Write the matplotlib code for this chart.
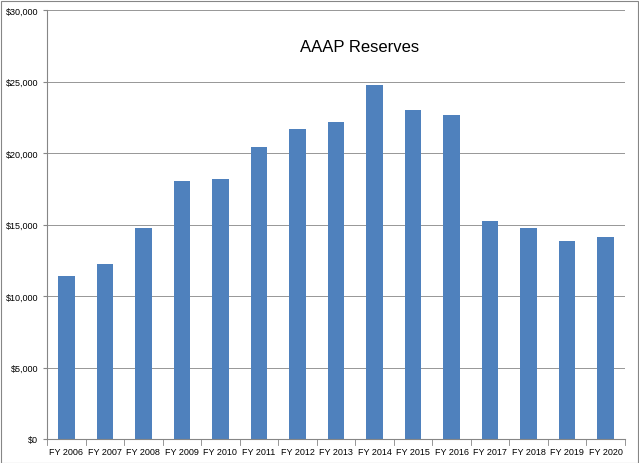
import matplotlib.pyplot as plt
from matplotlib.ticker import FuncFormatter
from matplotlib.patches import Rectangle

years = ["FY 2006", "FY 2007", "FY 2008", "FY 2009", "FY 2010", "FY 2011", "FY 2012",
         "FY 2013", "FY 2014", "FY 2015", "FY 2016", "FY 2017", "FY 2018", "FY 2019", "FY 2020"]
reserves = [11400, 12250, 14760, 18020, 18180, 20450, 21680, 22170, 24740, 23000,
            22660, 15220, 14760, 13850, 14150]

plt.rcParams['font.family'] = ['Liberation Sans', 'DejaVu Sans']
fig = plt.figure(figsize=(6.39, 4.64), dpi=100)
ax = fig.add_axes([47 / 639, 24 / 464, 578 / 639, 429 / 464])
ax.bar(range(len(years)), reserves, width=0.43, color='#4f81bd', zorder=2)
ax.set_xlim(-0.5, len(years) - 0.5)
ax.set_ylim(0, 30000)
ax.set_yticks(range(0, 30001, 5000))
ax.yaxis.set_major_formatter(FuncFormatter(lambda v, p: f"${v:,.0f}"))
ax.set_xticks(range(len(years)))
ax.set_xticklabels(years)
ax.tick_params(axis='both', labelsize=6.5, length=3, color='#868686')
ax.tick_params(axis='x', length=0, pad=6)
ax.grid(axis='y', color='#868686', linewidth=0.6, zorder=0)
for side in ['top', 'right']:
    ax.spines[side].set_visible(False)
for side in ['left', 'bottom']:
    ax.spines[side].set_color('#868686')
# vertical separators between categories
for i in range(len(years) + 1):
    ax.plot([i - 0.5, i - 0.5], [0, -400], color='#868686', lw=0.6, clip_on=False)
ax.text(0.54, 0.915, "AAAP Reserves", transform=ax.transAxes, ha='center', va='center', fontsize=12)
fig.patches.append(Rectangle((0.5 / 639, 0.5 / 464), 637 / 639, 462 / 464, transform=fig.transFigure,
                             fill=False, edgecolor='#868686', lw=0.8))
fig.savefig("out.png", dpi=100)
